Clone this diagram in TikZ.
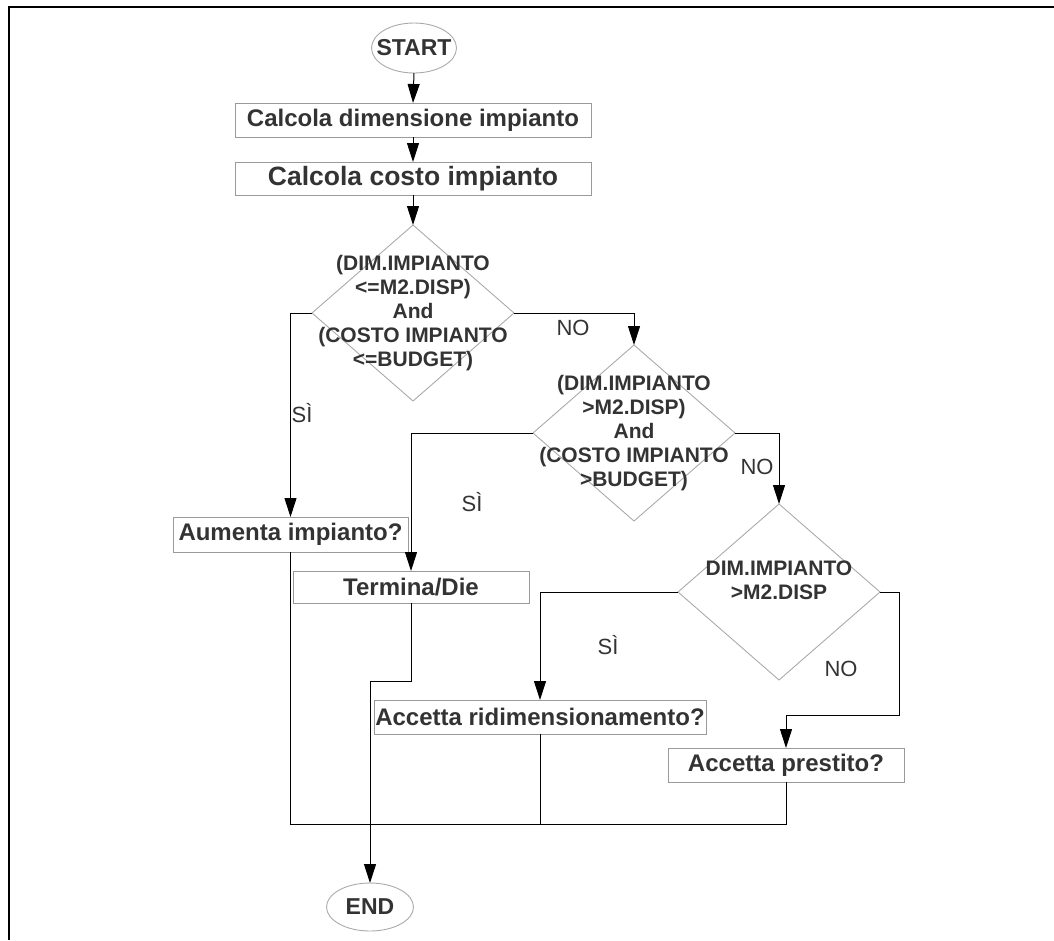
\documentclass[tikz,border=0pt]{standalone}
\usepackage{fontspec}
\setmainfont{Liberation Sans}
\usetikzlibrary{shapes.geometric,arrows.meta,calc}
\definecolor{txt}{HTML}{333333}
\definecolor{boxgray}{HTML}{9A9A9A}
\definecolor{diagray}{HTML}{AAAAAA}
\begin{document}
\begin{tikzpicture}[x=1pt,y=-1pt,
  box/.style={draw=boxgray, line width=1pt, inner sep=0pt, outer sep=0pt, text=txt,
    font=\fontsize{24}{28}\selectfont\bfseries},
  oval/.style={draw=diagray, line width=0.9pt, ellipse, inner sep=0pt, outer sep=0pt},
  ovaltext/.style={text=txt, font=\fontsize{23}{27}\selectfont\bfseries, inner sep=0pt},
  dia/.style={draw=diagray, line width=0.9pt, diamond, inner sep=0pt, outer sep=0pt,
    minimum width=202pt, minimum height=176pt},
  dtext/.style={align=center, text=txt, inner sep=0pt,
    font=\fontsize{21}{23.9}\selectfont\bfseries},
  lab/.style={text=txt, inner sep=0pt, font=\fontsize{22}{26}\selectfont},
  conn/.style={line width=1pt, draw=black},
  arr/.style={conn, -{Triangle[width=12pt,length=19pt]}}
]
\useasboundingbox (0,0) rectangle (1054,940);
% frame
\draw[line width=1.5pt] (9,940) -- (9,7) -- (1054,7);

% nodes
\node[oval, minimum width=85pt, minimum height=50pt] (start) at (414,48) {};
\node[ovaltext] (starttext) at (414,48) {START};
\node[box, minimum width=356pt, minimum height=34pt] (b1) at (413,120) {Calcola dimensione impianto};
\node[box, minimum width=356pt, minimum height=33pt, font=\fontsize{26.5}{30}\selectfont\bfseries] (b2) at (413,178.5) {Calcola costo impianto};

\node[dia] (d1) at (413,313) {};
\node[dtext] (t1) at (413,313) {(DIM.IMPIANTO\\ <=M2.DISP)\\ And\\ (COSTO IMPIANTO\\ <=BUDGET)};

\node[dia] (d2) at (634,433) {};
\node[dtext] (t2) at (634,433) {(DIM.IMPIANTO\\ >M2.DISP)\\ And\\ (COSTO IMPIANTO\\ >BUDGET)};

\node[dia] (d3) at (779,592) {};
\node[dtext] (t3) at (779,580) {DIM.IMPIANTO\\ >M2.DISP};

\node[box, minimum width=235pt, minimum height=35pt] (b3) at (290.5,534.5) {Aumenta impianto?};
\node[box, minimum width=236pt, minimum height=32pt] (b4) at (411,587) {Termina/Die};
\node[box, minimum width=332pt, minimum height=34pt] (b5) at (540,717) {Accetta ridimensionamento?};
\node[box, minimum width=236pt, minimum height=34pt] (b6) at (786,765) {Accetta prestito?};

\node[oval, minimum width=87pt, minimum height=48pt] (end) at (370,907) {};
\node[ovaltext] (endtext) at (370,907) {END};

% labels
\node[lab] (no1) at (573,328) {NO};
\node[lab] (si1) at (302,413) {SÌ};
\node[lab] (si2) at (472,502) {SÌ};
\node[lab] (no2) at (757,467) {NO};
\node[lab] (si3) at (608,645) {SÌ};
\node[lab] (no3) at (841,669) {NO};

% helper coordinates
\coordinate (r1) at (899,715);
\coordinate (k1) at (370,681);
\coordinate (bl) at (290.5,824);
\coordinate (br) at (786,824);

% connectors
\draw[arr] (start.south) -- (b1.north);
\draw[arr] (b1.south) -- (b2.north);
\draw[arr] (b2.south) -- (d1.north);
\draw[arr] (d1.east) -| (d2.north);
\draw[arr] (d1.west) -| (b3.north);
\draw[arr] (d2.west) -| (b4.north);
\draw[arr] (d2.east) -| (d3.north);
\draw[arr] (d3.west) -| (b5.north);
\draw[arr] (d3.east) -| (r1) -| (b6.north);
\draw[arr] (b4.south) |- (k1) -- (end.north);
\draw[conn] (b3.south) -- (bl) -- (br) -- (b6.south);
\draw[conn] (b5.south) -- (b5.south |- bl);
\end{tikzpicture}
\end{document}
